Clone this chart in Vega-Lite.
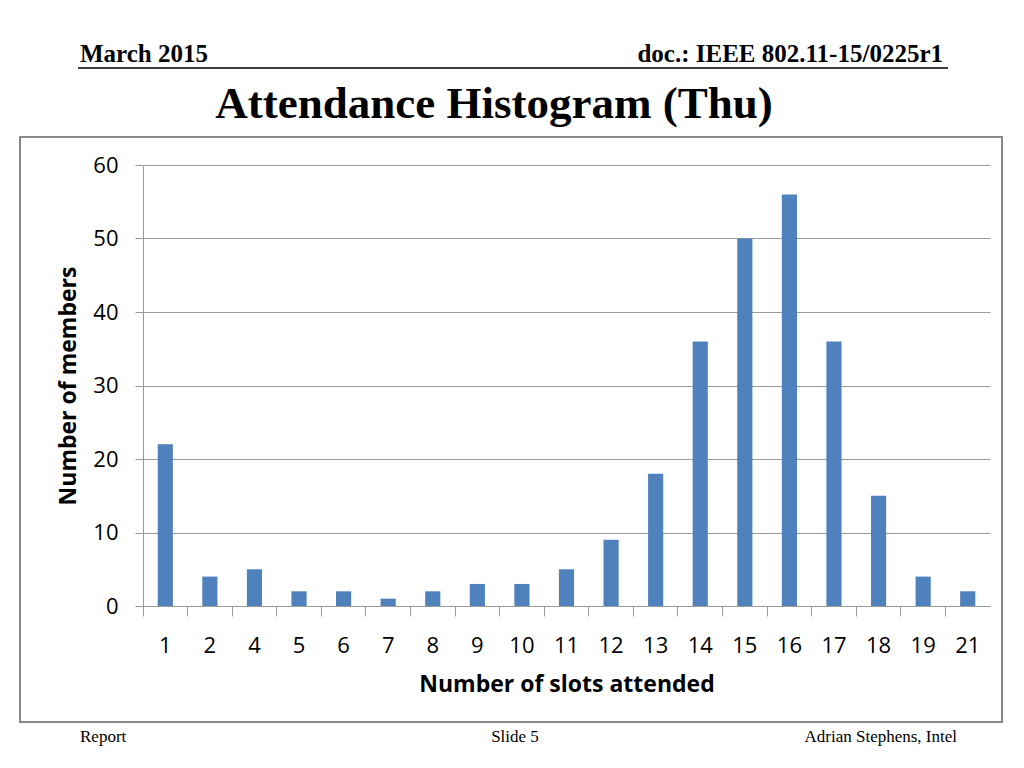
{
  "$schema": "https://vega.github.io/schema/vega-lite/v6.json",
  "autosize": "none",
  "width": 847,
  "height": 441,
  "padding": {"left": 143, "top": 165, "right": 34, "bottom": 162},
  "background": "white",
  "config": {"view": {"stroke": null}},
  "layer": [
    {
      "data": {
        "values": [
          {"slots": "1", "members": 22},
          {"slots": "2", "members": 4},
          {"slots": "4", "members": 5},
          {"slots": "5", "members": 2},
          {"slots": "6", "members": 2},
          {"slots": "7", "members": 1},
          {"slots": "8", "members": 2},
          {"slots": "9", "members": 3},
          {"slots": "10", "members": 3},
          {"slots": "11", "members": 5},
          {"slots": "12", "members": 9},
          {"slots": "13", "members": 18},
          {"slots": "14", "members": 36},
          {"slots": "15", "members": 50},
          {"slots": "16", "members": 56},
          {"slots": "17", "members": 36},
          {"slots": "18", "members": 15},
          {"slots": "19", "members": 4},
          {"slots": "21", "members": 2}
        ]
      },
      "mark": {"type": "bar", "color": "#4F81BD", "width": {"band": 0.34}},
      "encoding": {
        "x": {
          "field": "slots",
          "type": "ordinal",
          "sort": null,
          "scale": {"paddingInner": 0, "paddingOuter": 0},
          "axis": {
            "title": "Number of slots attended",
            "labelAngle": 0,
            "labelFont": "Open Sans",
            "labelFontSize": 22,
            "labelColor": "#000",
            "labelPadding": 19,
            "bandPosition": 0,
            "tickSize": 10,
            "tickColor": "#9a9a9a",
            "domainColor": "#9a9a9a",
            "titleFont": "Open Sans",
            "titleFontSize": 23,
            "titleFontWeight": "bold",
            "titleColor": "#000",
            "titlePadding": 17,
            "grid": false
          }
        },
        "y": {
          "field": "members",
          "type": "quantitative",
          "scale": {"domain": [0, 60]},
          "axis": {
            "title": "Number of members",
            "values": [0, 10, 20, 30, 40, 50, 60],
            "labelFont": "Open Sans",
            "labelFontSize": 22,
            "labelColor": "#000",
            "labelPadding": 17,
            "tickSize": 8,
            "tickColor": "#9a9a9a",
            "domainColor": "#9a9a9a",
            "grid": true,
            "gridColor": "#9a9a9a",
            "titleFont": "Open Sans",
            "titleFontSize": 23,
            "titleFontWeight": "bold",
            "titleColor": "#000",
            "titlePadding": 12
          }
        }
      }
    },
    {
      "data": {"values": [{}]},
      "mark": {"type": "rect", "fill": null, "stroke": "#888888", "strokeWidth": 2},
      "encoding": {"x": {"value": -123}, "x2": {"value": 859}, "y": {"value": -28}, "y2": {"value": 557}}
    },
    {
      "data": {"values": [{}]},
      "mark": {"type": "rule", "stroke": "black", "strokeWidth": 1.5},
      "encoding": {"x": {"value": -65}, "x2": {"value": 805}, "y": {"value": -97}, "y2": {"value": -97}}
    },
    {
      "data": {"values": [{}]},
      "mark": {"type": "text", "text": "Attendance Histogram (Thu)", "font": "Liberation Serif", "fontWeight": "bold", "fontSize": 45, "align": "center", "baseline": "alphabetic", "color": "black"},
      "encoding": {"x": {"value": 351}, "y": {"value": -47}}
    },
    {
      "data": {"values": [{}]},
      "mark": {"type": "text", "text": "March 2015", "font": "Liberation Serif", "fontWeight": "bold", "fontSize": 25, "align": "left", "baseline": "alphabetic", "color": "black"},
      "encoding": {"x": {"value": -63}, "y": {"value": -103}}
    },
    {
      "data": {"values": [{}]},
      "mark": {"type": "text", "text": "doc.: IEEE 802.11-15/0225r1", "font": "Liberation Serif", "fontWeight": "bold", "fontSize": 25, "align": "right", "baseline": "alphabetic", "color": "black"},
      "encoding": {"x": {"value": 800}, "y": {"value": -103}}
    },
    {
      "data": {"values": [{}]},
      "mark": {"type": "text", "text": "Report", "font": "Liberation Serif", "fontSize": 17, "align": "left", "baseline": "alphabetic", "color": "black"},
      "encoding": {"x": {"value": -63}, "y": {"value": 577}}
    },
    {
      "data": {"values": [{}]},
      "mark": {"type": "text", "text": "Slide 5", "font": "Liberation Serif", "fontSize": 17, "align": "center", "baseline": "alphabetic", "color": "black"},
      "encoding": {"x": {"value": 372}, "y": {"value": 577}}
    },
    {
      "data": {"values": [{}]},
      "mark": {"type": "text", "text": "Adrian Stephens, Intel", "font": "Liberation Serif", "fontSize": 17, "align": "right", "baseline": "alphabetic", "color": "black"},
      "encoding": {"x": {"value": 814}, "y": {"value": 577}}
    }
  ]
}
